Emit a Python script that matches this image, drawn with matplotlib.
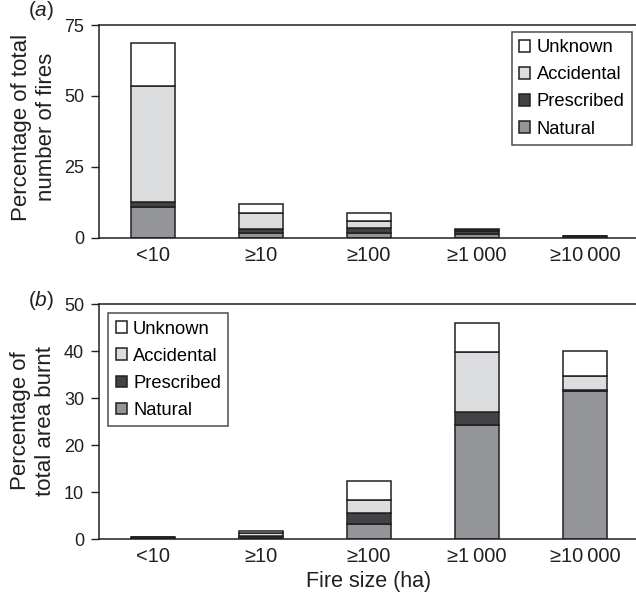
import matplotlib
matplotlib.use("Agg")
import matplotlib.pyplot as plt
import numpy as np

categories = ["<10", "\u226510", "\u2265100", "\u22651\u2009000", "\u226510\u2009000"]
series = ["Natural", "Prescribed", "Accidental", "Unknown"]

# (a) Percentage of total number of fires
fires_natural = [10.9, 1.5, 1.75, 1.2, 0.1]
fires_prescribed = [1.6, 1.7, 1.6, 1.3, 0.5]
fires_accidental = [40.9, 5.6, 2.7, 0.3, 0.0]
fires_unknown = [15.3, 3.2, 2.7, 0.4, 0.05]

# (b) Percentage of total area burnt
area_natural = [0.1, 0.3, 3.25, 24.2, 31.6]
area_prescribed = [0.2, 0.3, 2.25, 2.8, 0.05]
area_accidental = [0.05, 0.7, 2.9, 12.8, 3.1]
area_unknown = [0.05, 0.4, 4.0, 6.2, 5.2]

colors = {"Natural": "#949599", "Prescribed": "#434345",
          "Accidental": "#dcdddf", "Unknown": "#ffffff"}
ink = "#231f20"

plt.rcParams["font.family"] = ["Liberation Sans", "DejaVu Sans"]
plt.rcParams["mathtext.fontset"] = "custom"
plt.rcParams["mathtext.it"] = "Liberation Sans:italic"
plt.rcParams["mathtext.rm"] = "Liberation Sans"

fig = plt.figure(figsize=(6.36, 5.96), dpi=100)
W, H = 636, 596
L, R = 99.3, 636
ax1 = fig.add_axes([L / W, (H - 237.7) / H, (R - L) / W, (237.7 - 25) / H])
ax2 = fig.add_axes([L / W, (H - 539.0) / H, (R - L) / W, (539.0 - 304.3) / H])

x = np.arange(len(categories))
width = 0.407


def stack(ax, data):
    bottom = np.zeros(len(categories))
    handles = {}
    for name, vals in zip(series, data):
        vals = np.array(vals)
        b = ax.bar(x, vals, width, bottom=bottom, color=colors[name],
                   edgecolor=ink, linewidth=1.1, label=name, zorder=2)
        handles[name] = b
        bottom += vals
    return handles


h1 = stack(ax1, [fires_natural, fires_prescribed, fires_accidental, fires_unknown])
h2 = stack(ax2, [area_natural, area_prescribed, area_accidental, area_unknown])

for ax, ymax, step in [(ax1, 75, 25), (ax2, 50, 10)]:
    ax.set_xlim(-0.497, 4.472)
    ax.set_ylim(0, ymax)
    ax.set_yticks(np.arange(0, ymax + 1, step))
    ax.set_xticks(x)
    ax.set_xticklabels(categories)
    ax.tick_params(axis="x", length=0, pad=6, labelsize=14.5, colors=ink)
    ax.tick_params(axis="y", length=6, width=1, direction="out", pad=5,
                   labelsize=13, colors=ink)
    ax.spines["right"].set_visible(False)
    for s in ax.spines.values():
        s.set_color(ink)
        s.set_linewidth(1.1)

order = ["Unknown", "Accidental", "Prescribed", "Natural"]
leg_kw = dict(fontsize=13.2, frameon=True, fancybox=False, edgecolor=ink,
              handlelength=0.6, handleheight=0.6, handletextpad=0.35,
              labelspacing=0.55, borderpad=0.4, borderaxespad=0.0)
ax_w, ax1_h, ax2_h = R - L, 237.7 - 25, 539.0 - 304.3
l1 = ax1.legend([h1[k] for k in order], order, loc="upper right",
                bbox_to_anchor=(1 - 4 / ax_w, 1 - 7 / ax1_h), **leg_kw)
l2 = ax2.legend([h2[k] for k in order], order, loc="upper left",
                bbox_to_anchor=(9 / ax_w, 1 - 9 / ax2_h), **leg_kw)
for l in (l1, l2):
    l.get_frame().set_linewidth(1.1)

fig.text(34 / W, 1 - 127 / H, "Percentage of total\nnumber of fires",
         fontsize=16, rotation=90, ha="center", va="center",
         linespacing=1.25, color=ink)
fig.text(33 / W, 1 - 421 / H, "Percentage of\ntotal area burnt",
         fontsize=16, rotation=90, ha="center", va="center",
         linespacing=1.25, color=ink)
fig.text(369 / W, 1 - 581 / H, "Fire size (ha)", fontsize=15.5,
         ha="center", va="center", color=ink)

fig.text(41 / W, 1 - 10 / H, r"($\mathit{a}$)", fontsize=15, ha="center",
         va="center", color=ink)
fig.text(41 / W, 1 - 301 / H, r"($\mathit{b}$)", fontsize=15, ha="center",
         va="center", color=ink)

fig.savefig("out.png", dpi=100)
